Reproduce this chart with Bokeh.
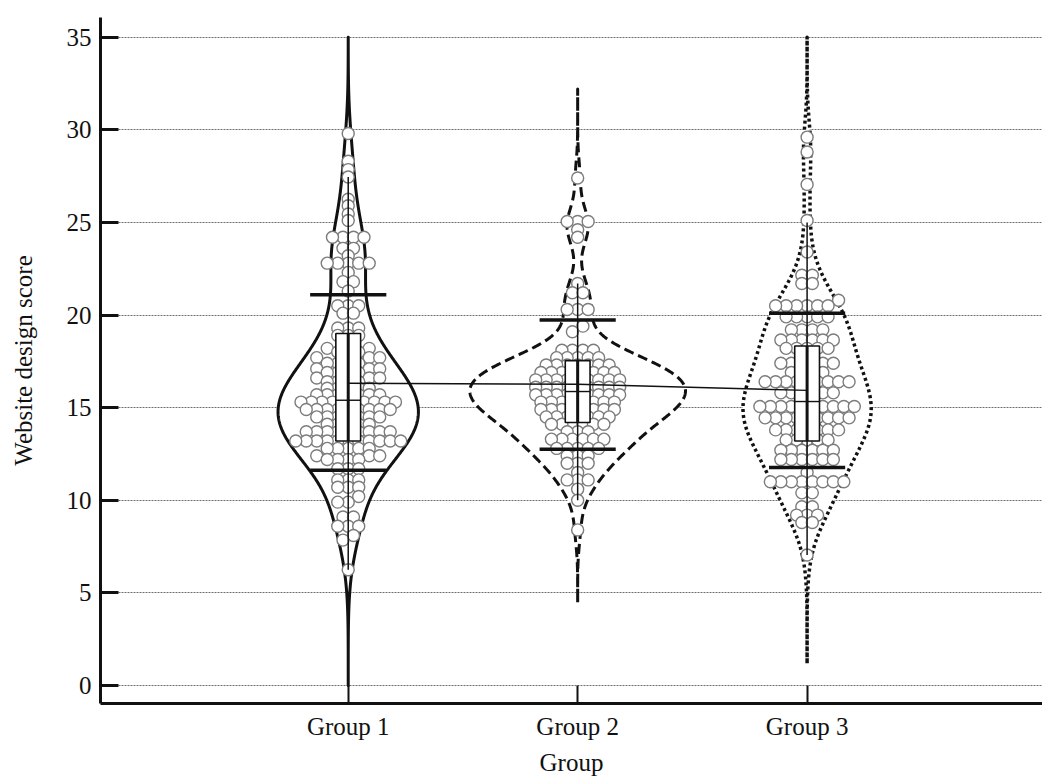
import numpy as np
from bokeh.plotting import figure
from bokeh.models import Range1d, FixedTicker
from bokeh.embed import file_html
from bokeh.resources import INLINE

# ---------------- data ----------------
groups = ["Group 1", "Group 2", "Group 3"]
group_pos = [1, 2, 3]

g1_scores = [29.8, 28.3, 27.85, 27.45, 26.25, 25.9, 25.45, 25.1,
             24.2, 24.2, 24.2, 24.2, 23.6, 23.6, 23.2,
             22.8, 22.8, 22.8, 22.8, 22.8, 22.3, 21.8, 21.8, 21.3,
             20.5, 20.5, 20.5, 20.1, 20.1,
             19.3, 19.3, 19.3, 18.9, 18.9, 18.9,
             18.2, 18.2, 18.0, 18.0, 18.0, 17.7, 17.7, 17.7,
             17.4, 17.4, 17.4, 17.4, 17.1, 17.1, 17.1, 16.9, 16.9, 16.9, 16.9,
             16.6, 16.6, 16.6, 16.4, 16.4, 16.4, 16.4,
             16.05, 16.05, 16.05, 16.05, 16.05,
             15.7, 15.7, 15.7, 15.7, 15.7, 15.7, 15.7,
             15.3, 15.3, 15.3, 15.3, 15.3, 15.3, 15.3, 15.3, 15.3, 15.3,
             14.9, 14.9, 14.9, 14.9, 14.9, 14.9, 14.9, 14.9, 14.9,
             14.5, 14.5, 14.5, 14.5, 14.5, 14.5, 14.5,
             14.1, 14.1, 14.1, 14.1, 14.1,
             13.7, 13.7, 13.7, 13.7, 13.7, 13.7, 13.7, 13.7, 13.7,
             13.2, 13.2, 13.2, 13.2, 13.2, 13.2, 13.2, 13.2, 13.2, 13.2, 13.2,
             12.8, 12.8, 12.8, 12.8, 12.8, 12.4, 12.4, 12.4,
             12.2, 12.2, 12.2, 12.2, 11.7, 11.7, 11.7, 11.1, 11.1, 11.1,
             10.7, 10.7, 10.7, 10.2, 9.9, 9.9, 9.1, 9.1, 8.6, 8.6, 8.6,
             8.1, 7.85, 6.25]

g2_scores = [27.4, 25.05, 25.05, 25.05, 24.6, 24.2,
             21.7, 21.2, 21.2, 20.3, 20.3, 20.3, 19.4, 19.1,
             18.1, 18.1, 18.1, 18.1,
             17.7, 17.7, 17.7, 17.7, 17.7,
             17.3, 17.3, 17.3, 17.3, 17.3, 17.3, 17.3,
             16.9, 16.9, 16.9, 16.9, 16.9, 16.9, 16.9, 16.9,
             16.5, 16.5, 16.5, 16.5, 16.5, 16.5, 16.5, 16.5, 16.5,
             16.1, 16.1, 16.1, 16.1, 16.1, 16.1, 16.1, 16.1, 16.1,
             15.7, 15.7, 15.7, 15.7, 15.7, 15.7, 15.7, 15.7, 15.7,
             15.3, 15.3, 15.3, 15.3, 15.3, 15.3, 15.3, 15.3,
             14.9, 14.9, 14.9, 14.9, 14.9, 14.9, 14.9, 14.9,
             14.5, 14.5, 14.5, 14.5, 14.5, 14.5, 14.5,
             14.1, 14.1, 14.1, 14.1, 14.1, 14.1,
             13.7, 13.7, 13.7, 13.3, 13.3, 13.3, 13.3, 13.3, 13.3,
             12.8, 12.8, 12.8, 12.8, 12.8,
             12.4, 12.4, 12.4, 12.0, 12.0, 12.0, 11.5, 11.1, 11.1, 11.1,
             10.6, 10.0, 8.4]

g3_scores = [29.6, 28.8, 27.05, 25.1,
             23.4, 22.15, 22.15, 21.7, 21.7, 20.8,
             20.5, 20.5, 20.5, 20.5, 20.5, 20.5,
             19.9, 19.9, 19.9, 19.9, 19.9, 19.2, 19.2, 19.2, 19.2,
             18.65, 18.65, 18.65, 18.65, 18.65, 18.65,
             18.2, 18.2, 18.2, 18.2, 18.2,
             17.4, 17.4, 17.4, 17.4, 17.4, 17.4, 16.9, 16.9, 16.9, 16.9,
             16.4, 16.4, 16.4, 16.4, 16.4, 16.4, 16.4, 16.4, 16.4,
             15.8, 15.8, 15.8, 15.8, 15.8, 15.8,
             15.06, 15.06, 15.06, 15.06, 15.06, 15.06, 15.06, 15.06, 15.06, 15.06,
             14.45, 14.45, 14.45, 14.45, 14.45, 14.45, 14.45, 14.45, 14.45,
             13.8, 13.8, 13.8, 13.8, 13.8, 13.8, 13.8,
             13.26, 13.26, 13.26, 13.26, 13.26,
             12.7, 12.7, 12.7, 12.7, 12.7, 12.7,
             12.2, 12.2, 12.2, 12.2, 12.2, 12.2,
             11.5, 11.0, 11.0, 11.0, 11.0, 11.0, 11.0, 11.0, 11.0,
             10.4, 10.4, 9.65, 9.65, 9.2, 9.2, 9.2, 8.8, 8.8, 7.05]

means = [16.32, 16.26, 15.93]
sd_lo = [11.62, 12.76, 11.77]
sd_hi = [21.10, 19.73, 20.09]
box_q1 = [13.2, 14.2, 13.2]
box_median = [15.4, 15.87, 15.33]
box_q3 = [19.0, 17.54, 18.33]
whisk_lo = [6.25, 10.0, 7.05]
whisk_hi = [27.45, 21.7, 25.0]
kde_bandwidth = [1.6, 0.95, 1.3]
violin_lo = [0.0, 4.5, 1.2]
violin_hi = [35.0, 32.2, 35.0]
y_ticks = [0, 5, 10, 15, 20, 25, 30, 35]

# ---------------- style ----------------
FONT = "Liberation Serif"
INK = "#111111"
PX_PER_X = 229.5
PX_PER_Y = 18.55
VIOLIN_HALF_MAX = 0.47
BOX_HALF = 0.054
SD_HALF = 0.166
violin_dash = ["solid", "10 5", "3 3"]
violin_width = [3, 3, 3.5]

p = figure(width=1042, height=778, output_backend="svg", toolbar_location=None,
           x_range=Range1d(-0.0797, 4.026), y_range=Range1d(-0.97, 36.06),
           min_border_left=100, min_border_right=0, min_border_top=17,
           min_border_bottom=74)
p.outline_line_color = None
p.background_fill_color = "white"

# axes
for ax in (p.xaxis[0], p.yaxis[0]):
    ax.axis_line_width = 3
    ax.axis_line_color = INK
    ax.major_tick_in = 18
    ax.major_tick_out = 0
    ax.minor_tick_line_color = None
    ax.major_tick_line_color = INK
    ax.major_label_text_font = FONT
    ax.major_label_text_font_size = "25px"
    ax.major_label_text_color = INK
    ax.axis_label_text_font = FONT
    ax.axis_label_text_font_size = "25px"
    ax.axis_label_text_font_style = "normal"
    ax.axis_label_text_color = INK

p.yaxis[0].major_tick_line_width = 3
p.xaxis[0].major_tick_line_width = 2
p.yaxis[0].ticker = FixedTicker(ticks=y_ticks)
p.xaxis[0].ticker = FixedTicker(ticks=group_pos)
p.xaxis[0].major_label_overrides = {g: n for g, n in zip(group_pos, groups)}
p.yaxis[0].axis_label = "Website design score"
p.xaxis[0].axis_label = "Group"
p.yaxis[0].major_label_standoff = 9
p.xaxis[0].major_label_standoff = 9
p.yaxis[0].axis_label_standoff = 27
p.xaxis[0].axis_label_standoff = 6

p.xgrid.grid_line_color = None
p.ygrid.ticker = FixedTicker(ticks=y_ticks)
p.ygrid.grid_line_color = "#6f6f6f"
p.ygrid.grid_line_width = 1
p.ygrid.grid_line_dash = "2 1"


def kde(vals, grid, bw):
    v = np.asarray(vals)[:, None]
    z = (grid[None, :] - v) / bw
    return np.exp(-0.5 * z * z).sum(axis=0) / (len(vals) * bw * np.sqrt(2 * np.pi))


def swarm(vals, bin_h=0.35, spacing=10.5):
    """Row-binned beeswarm: points in one row bin sit side by side, centred."""
    vals = np.asarray(vals)
    order = np.argsort(vals, kind="stable")
    offs = np.zeros(len(vals))
    rows = []
    cur = [order[0]]
    start = vals[order[0]]
    for i in order[1:]:
        if vals[i] - start < bin_h - 1e-9:
            cur.append(i)
        else:
            rows.append(cur)
            cur = [i]
            start = vals[i]
    rows.append(cur)
    for r in rows:
        n = len(r)
        slots = [(j - (n - 1) / 2.0) * spacing for j in range(n)]
        slots.sort(key=lambda s: (abs(s), s))
        for idx, s in zip(r, slots):
            offs[idx] = s
    return offs / PX_PER_X


all_scores = [g1_scores, g2_scores, g3_scores]
dens = []
grids = []
for k in range(3):
    g = np.linspace(violin_lo[k], violin_hi[k], 600)
    grids.append(g)
    dens.append(kde(all_scores[k], g, kde_bandwidth[k]))
scale = VIOLIN_HALF_MAX / max(d.max() for d in dens)

# violins
for k in range(3):
    c = group_pos[k]
    w = dens[k] * scale
    xs = np.concatenate([c - w, (c + w)[::-1]])
    ys = np.concatenate([grids[k], grids[k][::-1]])
    p.patch(xs, ys, fill_color="white", line_color=INK,
            line_width=violin_width[k], line_dash=violin_dash[k],
            line_join="round")

# points (beeswarm)
for k in range(3):
    c = group_pos[k]
    offs = swarm(all_scores[k])
    p.scatter(c + offs, all_scores[k], size=12, marker="circle",
              fill_color="white", line_color="#7c7c7c", line_width=1.4)

# boxes
p.quad(left=[c - BOX_HALF for c in group_pos], right=[c + BOX_HALF for c in group_pos],
       bottom=box_q1, top=box_q3, fill_color="white", line_color=INK, line_width=1.6)
p.segment(x0=[c - BOX_HALF for c in group_pos], x1=[c + BOX_HALF for c in group_pos],
          y0=box_median, y1=box_median, line_color=INK, line_width=1.4)
# whiskers
p.segment(x0=group_pos, x1=group_pos, y0=whisk_lo, y1=whisk_hi, line_color=INK, line_width=1.5)
p.segment(x0=group_pos, x1=group_pos, y0=box_q1, y1=box_q3, line_color=INK, line_width=3)
# mean +/- sd bars
p.segment(x0=[c - SD_HALF for c in group_pos], x1=[c + SD_HALF for c in group_pos],
          y0=sd_hi, y1=sd_hi, line_color=INK, line_width=3.5)
p.segment(x0=[c - SD_HALF for c in group_pos], x1=[c + SD_HALF for c in group_pos],
          y0=sd_lo, y1=sd_lo, line_color=INK, line_width=3.5)
# mean line
p.line(group_pos, means, line_color=INK, line_width=1.4)

open("out.html", "w").write(file_html(p, INLINE))
